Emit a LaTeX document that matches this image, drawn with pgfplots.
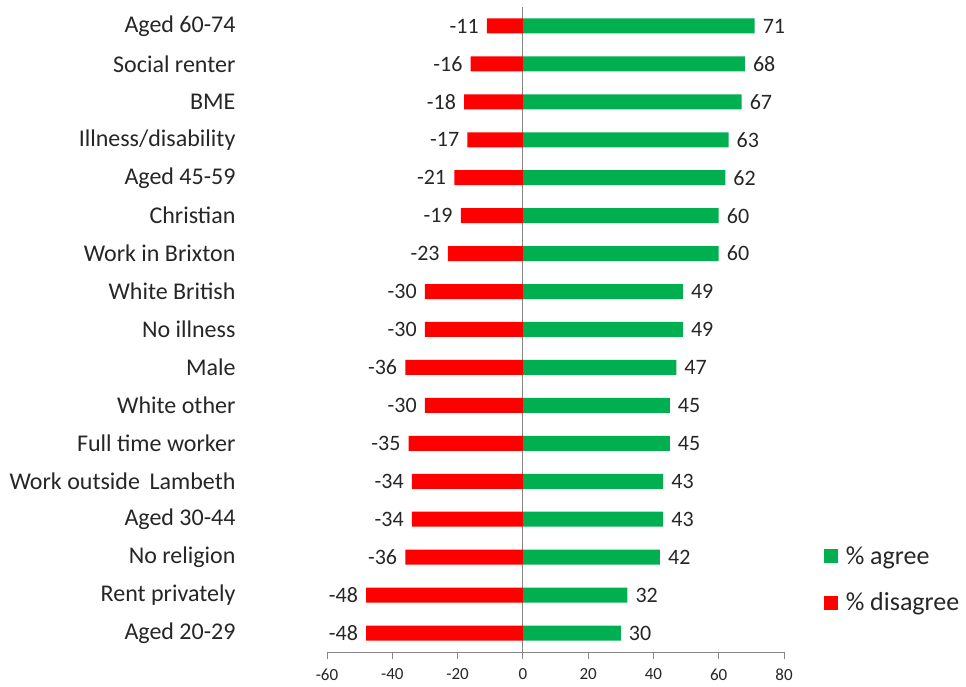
\documentclass[border=0pt]{standalone}
\usepackage{pgfplots}
\pgfplotsset{compat=1.18}
\usepackage{fontspec}
\setmainfont{Carlito}
\definecolor{agree}{HTML}{00B050}
\definecolor{disagree}{HTML}{FF0000}
\definecolor{axgray}{HTML}{868686}
\begin{document}
\begin{tikzpicture}
\useasboundingbox (0,0) rectangle (966pt,686pt);
\begin{axis}[
  at={(327pt,34pt)}, anchor=south west,
  scale only axis, width=457pt, height=645pt,
  /pgf/number format/assume math mode=true,
  xmin=-60, xmax=80, ymin=-0.5, ymax=16.5,
  xtick={-60,-40,...,80},
  ytick={0,...,16},
  yticklabels={Aged 20-29, Rent privately, No religion, Aged 30-44, Work outside\hspace{0.4em}Lambeth, Full time worker, White other, Male, No illness, White British, Work in Brixton, Christian, Aged 45-59, Illness/disability, BME, Social renter, Aged 60-74},
  axis lines*=left,
  x axis line style={-, draw=axgray, line width=0.8pt},
  y axis line style={draw=none},
  ytick style={draw=none},
  xtick style={draw=axgray, line width=0.8pt},
  tick align=outside,
  major tick length=7pt,
  xticklabel style={font=\fontsize{17}{20}\selectfont, text=black!85, yshift=-6pt},
  yticklabel style={font=\fontsize{24}{28}\selectfont, text=black!85, xshift=-81pt},
  extra x ticks={0},
  extra x tick labels={},
  extra x tick style={grid=major, major grid style={draw=axgray, line width=0.8pt}},
  xbar, bar width=15pt, bar shift=0pt,
  nodes near coords,
  nodes near coords align={horizontal},
  every node near coord/.append style={font=\fontsize{22}{26}\selectfont, text=black!85, inner sep=8pt},
  legend style={at={(1.08,0.170)}, anchor=north west, draw=none, fill=none,
    font=\fontsize{26}{30}\selectfont, row sep=23pt, text=black!85},
  legend cell align=left,
  legend image code/.code={\fill[#1] (0pt,-7pt) rectangle (14pt,7pt); \path (20pt,0pt);},
]
\addplot[fill=agree, draw=none] coordinates {
(30,0) (32,1) (42,2) (43,3) (43,4) (45,5) (45,6) (47,7) (49,8) (49,9) (60,10) (60,11) (62,12) (63,13) (67,14) (68,15) (71,16)};
\addlegendentry{\% agree}
\addplot[fill=disagree, draw=none] coordinates {
(-48,0) (-48,1) (-36,2) (-34,3) (-34,4) (-35,5) (-30,6) (-36,7) (-30,8) (-30,9) (-23,10) (-19,11) (-21,12) (-17,13) (-18,14) (-16,15) (-11,16)};
\addlegendentry{\% disagree}
\end{axis}
\end{tikzpicture}
\end{document}
